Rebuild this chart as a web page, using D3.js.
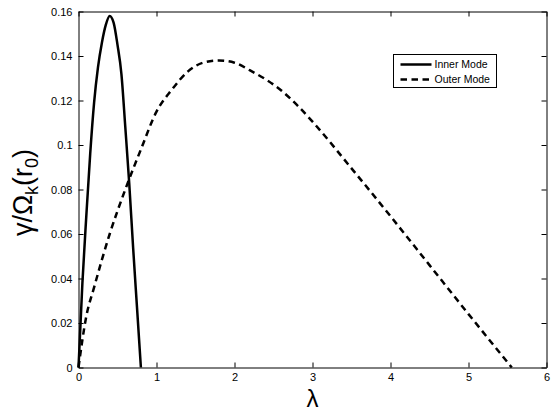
<!DOCTYPE html>
<html>
<head>
<meta charset="utf-8">
<script src="https://cdn.jsdelivr.net/npm/d3@7"></script>
<style>
  body { margin: 0; background: #fff; }
  text { font-family: "Liberation Sans", Arial, sans-serif; }
</style>
</head>
<body>
<script>
const w = 554;
const h = 415;
const margin = { left: 78.5, right: 7.5, top: 11.5, bottom: 47.5 };

// Inner mode (lambda, growth rate)
const innerLambda = [0, 0.05, 0.1, 0.15, 0.2, 0.25, 0.3, 0.35, 0.4, 0.45, 0.5, 0.55, 0.6, 0.65, 0.7, 0.75, 0.8];
const innerGamma = [0, 0.038, 0.068, 0.096, 0.119, 0.135, 0.146, 0.154, 0.158, 0.155, 0.145, 0.132, 0.108, 0.083, 0.054, 0.027, 0];

// Outer mode
const outerLambda = [0, 0.1, 0.2, 0.4, 0.6, 0.8, 1.0, 1.2, 1.4, 1.6, 1.8, 2.0, 2.2, 2.4, 2.6, 2.8, 3.0, 3.5, 4.0, 4.5, 5.0, 5.555];
const outerGamma = [0, 0.023, 0.036, 0.06, 0.08, 0.098, 0.115, 0.125, 0.133, 0.137, 0.138, 0.137, 0.1335, 0.1295, 0.1245, 0.118, 0.1105, 0.0895, 0.068, 0.046, 0.024, 0];

const xTicks = [0, 1, 2, 3, 4, 5, 6];
const yTicks = [0, 0.02, 0.04, 0.06, 0.08, 0.1, 0.12, 0.14, 0.16];

const svg = d3.select("body").append("svg")
    .attr("width", w)
    .attr("height", h);

const x = d3.scaleLinear().domain([0, 6]).range([margin.left, w - margin.right]);
const y = d3.scaleLinear().domain([0, 0.16]).range([h - margin.bottom, margin.top]);

// axes, MATLAB style with inward ticks
const fmt = d => d === 0 ? "0" : String(d);
const axisStyle = g => {
    g.select(".domain").attr("stroke", "#000");
    g.selectAll(".tick line").attr("stroke", "#000");
    g.selectAll(".tick text").attr("fill", "#000")
        .style("font-family", "'Liberation Sans', Arial, sans-serif")
        .style("font-size", "11px");
};

svg.append("g")
    .attr("transform", "translate(0," + y(0) + ")")
    .call(d3.axisBottom(x).tickValues(xTicks).tickFormat(fmt).tickSizeInner(-5).tickSizeOuter(0).tickPadding(6))
    .call(axisStyle);
svg.append("g")
    .attr("transform", "translate(" + x(0) + ",0)")
    .call(d3.axisLeft(y).tickValues(yTicks).tickFormat(fmt).tickSizeInner(-5).tickSizeOuter(0).tickPadding(6))
    .call(axisStyle);
svg.append("g")
    .attr("transform", "translate(0," + y(0.16) + ")")
    .call(d3.axisTop(x).tickValues(xTicks).tickFormat("").tickSizeInner(-5).tickSizeOuter(0))
    .call(axisStyle);
svg.append("g")
    .attr("transform", "translate(" + x(6) + ",0)")
    .call(d3.axisRight(y).tickValues(yTicks).tickFormat("").tickSizeInner(-5).tickSizeOuter(0))
    .call(axisStyle);

// curves
const line = d3.line().x(d => x(d[0])).y(d => y(d[1])).curve(d3.curveMonotoneX);

svg.append("path")
    .datum(d3.zip(innerLambda, innerGamma))
    .attr("fill", "none")
    .attr("stroke", "#000")
    .attr("stroke-width", 2.5)
    .attr("stroke-linejoin", "round")
    .attr("d", line);

svg.append("path")
    .datum(d3.zip(outerLambda, outerGamma))
    .attr("fill", "none")
    .attr("stroke", "#000")
    .attr("stroke-width", 2.5)
    .attr("stroke-dasharray", "6.5,4.5")
    .attr("d", line);

// labels
svg.append("text")
    .attr("x", x(3))
    .attr("y", 407)
    .attr("text-anchor", "middle")
    .style("font-size", "24px")
    .text("λ");

const yl = svg.append("text")
    .attr("transform", "translate(32," + (y(0.08) + 3) + ") rotate(-90)")
    .attr("text-anchor", "middle")
    .style("font-size", "27px");
yl.append("tspan").text("γ/Ω");
yl.append("tspan").attr("dy", 6).style("font-size", "18px").text("k");
yl.append("tspan").attr("dy", -6).text("(r");
yl.append("tspan").attr("dy", 6).style("font-size", "18px").text("0");
yl.append("tspan").attr("dy", -6).text(")");

// legend
const legend = svg.append("g").attr("transform", "translate(393.5,54.5)");
legend.append("rect")
    .attr("width", 103)
    .attr("height", 33)
    .attr("fill", "#fff")
    .attr("stroke", "#000")
    .attr("stroke-width", 1);
const items = [["Inner Mode", null], ["Outer Mode", "6.5,4.5"]];
items.forEach((it, i) => {
    const yy = 10 + i * 15;
    legend.append("line")
        .attr("x1", 7).attr("x2", 38)
        .attr("y1", yy).attr("y2", yy)
        .attr("stroke", "#000")
        .attr("stroke-width", 2.5)
        .attr("stroke-dasharray", it[1]);
    legend.append("text")
        .attr("x", 41)
        .attr("y", yy + 3.5)
        .style("font-size", "10.5px")
        .text(it[0]);
});
</script>
</body>
</html>
